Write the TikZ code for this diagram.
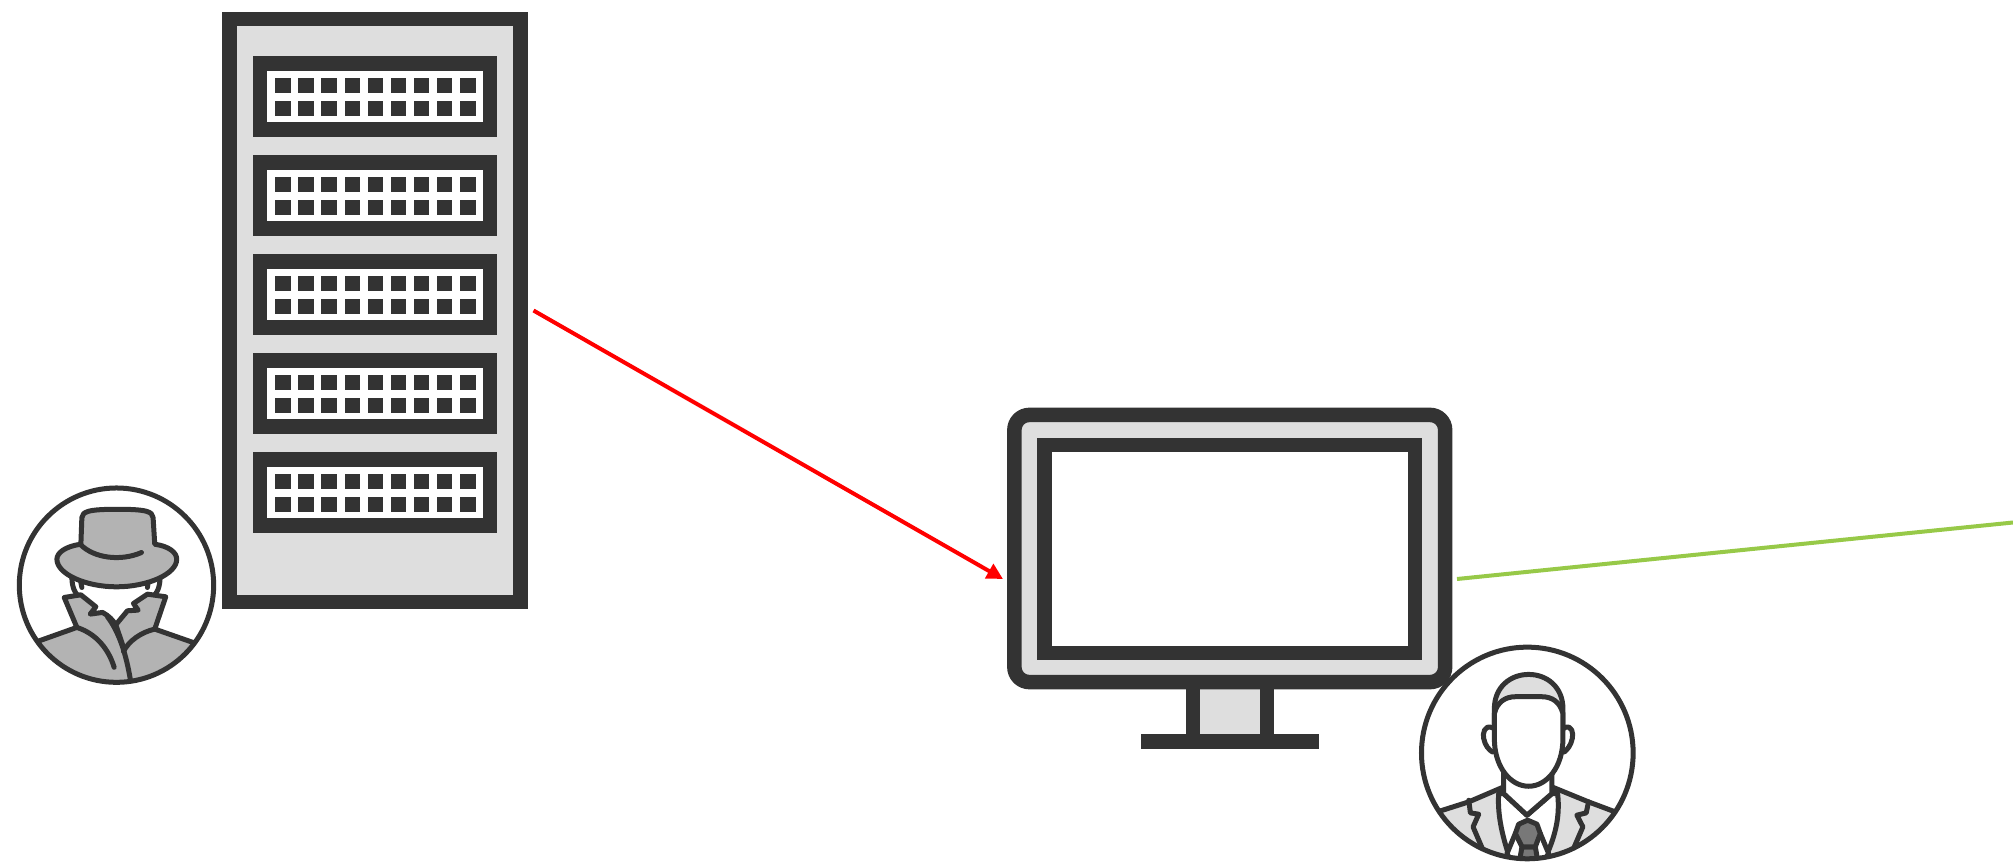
\documentclass[tikz,border=0pt]{standalone}
\usepackage{tikz}
\usetikzlibrary{arrows.meta,calc}
\definecolor{iconDark}{RGB}{51,51,51}
\definecolor{iconLight}{RGB}{222,222,222}
\definecolor{iconMid}{RGB}{179,179,179}
\definecolor{tieGray}{RGB}{120,120,120}
\definecolor{linkRed}{RGB}{255,0,0}
\definecolor{linkGreen}{RGB}{151,201,72}
\tikzset{
  basebox/.style={rectangle,draw=iconDark,inner sep=0pt,line width=0.145cm},
  rackbox/.style={basebox,fill=iconLight},
  slotbox/.style={basebox,fill=white,minimum width=2.30cm,minimum height=0.66cm},
  ledbox/.style={rectangle,fill=iconDark,inner sep=0pt,minimum width=0.155cm,minimum height=0.155cm},
  screenbox/.style={basebox,fill=white,minimum width=3.705cm,minimum height=2.08cm},
  iconline/.style={draw=iconDark,line width=0.05cm,line join=round,line cap=round},
  redarr/.style={-{Triangle[length=0.16cm,width=0.16cm]},line width=0.04cm,color=linkRed},
  greenarr/.style={line width=0.04cm,color=linkGreen}
}
\begin{document}
\begin{tikzpicture}[x=0.01cm,y=-0.01cm]
  \useasboundingbox (0,0) rectangle (2013,864);

  % server rack
  \node[rackbox,minimum width=2.91cm,minimum height=5.83cm] (server) at (375,310.5) {};
  \foreach \r in {0,...,4} {
    \node[slotbox] (slot\r) at (375,{96.5+99*\r}) {};
    \foreach \c in {0,...,8} {
      \node[ledbox] (ledA\r\c) at ({283+23.1*\c},{85.5+99*\r}) {};
      \node[ledbox] (ledB\r\c) at ({283+23.1*\c},{108.5+99*\r}) {};
    }
  }

  % monitor
  \node[rackbox,minimum width=0.74cm,minimum height=0.60cm] (stand) at (1230,711) {};
  \node[rectangle,fill=iconDark,inner sep=0pt,minimum width=1.78cm,minimum height=0.15cm] (foot) at (1230,741.5) {};
  \node[rackbox,rounded corners=0.15cm,minimum width=4.305cm,minimum height=2.67cm] (monitor) at (1229.75,548.5) {};
  \node[screenbox] (screen) at (1229.75,549) {};

  \coordinate (serverOut) at (533.5,310.5);
  \coordinate (monitorIn) at (1003,579);
  \coordinate (monitorOut) at (1457,579);
  \coordinate (farEnd) at (2013,522.5);
  \draw[redarr] (serverOut) -- (monitorIn);
  \draw[greenarr] (monitorOut) -- (farEnd);

  % spy
  \begin{scope}[shift={(1,471)},x=0.00333cm,y=-0.00333cm]
    \node[circle,fill=white,inner sep=0pt,minimum size=1.94cm] (spy) at (347,343) {};
    \begin{scope}
      \clip (347,343) circle (292);
      \draw[iconline] (213,322) .. controls (214,350) and (222,368) .. (235,378);
      \draw[iconline] (240,335) -- (243,350);
      \draw[iconline] (478,322) .. controls (477,350) and (469,368) .. (456,378);
      \draw[iconline] (442,335) -- (440,350);
      \draw[iconline,fill=iconMid] (110,512) -- (228,470) -- (190,380) -- (240,372) -- (285,408) -- (268,430) -- (305,425)
        .. controls (325,435) and (337,450) .. (345,462) -- (380,420) -- (412,418) -- (398,398) -- (440,370) -- (495,378) -- (462,475) -- (585,518) -- (585,660) -- (110,660) -- cycle;
      \draw[iconline] (228,470) .. controls (290,490) and (325,540) .. (340,590);
      \draw[iconline] (320,438) .. controls (360,490) and (380,570) .. (390,635);
      \draw[iconline] (462,475) .. controls (420,485) and (385,510) .. (368,542);
      \draw[iconline] (345,462) -- (368,530);
      \draw[iconline,fill=iconMid] (240,220) -- (243,140) .. controls (245,122) and (262,115) .. (350,115)
        .. controls (438,115) and (455,122) .. (457,140) -- (462,220)
        .. controls (505,226) and (528,245) .. (528,265) .. controls (528,310) and (440,348) .. (347,348)
        .. controls (255,348) and (168,310) .. (168,265) .. controls (168,245) and (195,226) .. (240,220) -- cycle;
      \draw[iconline] (240,222) .. controls (280,262) and (360,272) .. (422,245);
    \end{scope}
    \draw[iconline] (spy.center) circle (292);
  \end{scope}

  % analyst
  \begin{scope}[shift={(1400.5,630.5)},x=0.00333cm,y=-0.00333cm]
    \node[circle,fill=white,inner sep=0pt,minimum size=2.12cm] (analyst) at (381,368) {};
    \begin{scope}
      \clip (381,368) circle (318);
      \draw[iconline,fill=iconLight] (120,542) -- (205,515) -- (310,470) -- (310,490) -- (380,555) -- (455,490) -- (455,470) -- (565,515) -- (645,545) -- (645,700) -- (120,700) -- cycle;
      \draw[iconline,fill=white] (295,490) .. controls (290,560) and (310,630) .. (330,690) -- (432,690) .. controls (465,620) and (480,560) .. (472,490) -- (455,490) -- (380,555) -- (310,490) -- cycle;
      \draw[iconline] (205,510) -- (210,548) -- (235,552) -- (218,590) -- (250,665);
      \draw[iconline] (565,515) -- (558,548) -- (530,555) -- (548,590) -- (520,655);
      \draw[iconline,fill=white] (345,610) -- (320,670) -- (330,690) -- (432,690) -- (445,670) -- (420,610);
      \draw[iconline,fill=tieGray] (365,650) -- (405,650) -- (412,690) -- (358,690) -- cycle;
      \draw[iconline,fill=tieGray] (382,570) -- (410,582) -- (420,610) -- (405,650) -- (365,650) -- (345,610) -- (355,582) -- cycle;
      \draw[iconline,fill=white] (310,425) -- (310,490) -- (380,555) -- (455,490) -- (455,425);
      \draw[iconline,fill=white] (276,292) .. controls (252,282) and (246,310) .. (250,325) .. controls (254,345) and (265,358) .. (276,365);
      \draw[iconline,fill=white] (492,292) .. controls (516,282) and (520,310) .. (516,325) .. controls (512,345) and (501,358) .. (492,365);
      \draw[iconline,fill=iconLight] (282,300) -- (282,235) .. controls (282,170) and (330,132) .. (385,132) .. controls (440,132) and (488,170) .. (488,235) -- (488,300) -- cycle;
      \draw[iconline,fill=white] (282,250) .. controls (290,215) and (315,199) .. (345,199) -- (425,199) .. controls (455,199) and (480,215) .. (488,250)
        -- (488,325) .. controls (488,410) and (440,468) .. (385,468) .. controls (330,468) and (282,410) .. (282,325) -- cycle;
    \end{scope}
    \draw[iconline] (analyst.center) circle (318);
  \end{scope}
\end{tikzpicture}
\end{document}
